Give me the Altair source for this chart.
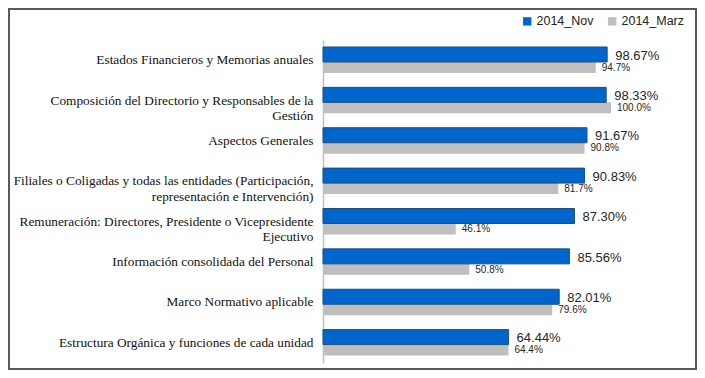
import altair as alt
import pandas as pd

categories = [
    "Estados Financieros y Memorias anuales",
    "Composición del Directorio y Responsables de la|Gestión",
    "Aspectos Generales",
    "Filiales o Coligadas y todas las entidades (Participación,|representación e Intervención)",
    "Remuneración: Directores, Presidente o Vicepresidente|Ejecutivo",
    "Información consolidada del Personal",
    "Marco Normativo aplicable",
    "Estructura Orgánica y funciones de cada unidad",
]
nov_values = [98.67, 98.33, 91.67, 90.83, 87.30, 85.56, 82.01, 64.44]
marz_values = [94.7, 100.0, 90.8, 81.7, 46.1, 50.8, 79.6, 64.4]
series = ["2014_Nov", "2014_Marz"]
colors = ["#0066CC", "#BFBFBF"]

df = pd.DataFrame({
    "cat": categories,
    "nov": nov_values,
    "marz": marz_values,
})
df["nov_label"] = [f"{v:.2f}%" for v in nov_values]
df["marz_label"] = [f"{v:.1f}%" for v in marz_values]
df["s_nov"] = series[0]
df["s_marz"] = series[1]

W, H = 360, 323
xscale = alt.Scale(domain=[0, 125], nice=False, zero=True)
yscale = alt.Scale(domain=categories, paddingInner=0, paddingOuter=0)
color_scale = alt.Scale(domain=series, range=colors)

y_enc = alt.Y(
    "cat:N", scale=yscale, sort=categories,
    axis=alt.Axis(
        title=None, ticks=False, labelPadding=10,
        labelExpr="split(datum.label, '|')",
        labelFont="Liberation Serif", labelFontSize=13.3, labelColor="#111111",
        labelLimit=330, labelLineHeight=15.5,
        domainColor="#BFBFBF", domainWidth=1.5,
    ),
)
x_enc = alt.X("nov:Q", scale=xscale, axis=None)

base = alt.Chart(df)

blue = base.mark_bar(height=15, yOffset=-5.7, stroke="#1F4E79", strokeWidth=1).encode(
    x=x_enc,
    y=y_enc,
    color=alt.Color(
        "s_nov:N", scale=color_scale, title=None,
        legend=alt.Legend(
            orient="none", direction="horizontal", legendX=198, legendY=-25,
            symbolType="square", symbolSize=70, symbolStrokeWidth=0,
            labelFont="Liberation Sans", labelFontSize=12.5, labelColor="#222222",
            columnPadding=12, labelOffset=3,
        ),
    ),
)
gray = base.mark_bar(height=11, yOffset=7.3).encode(
    x=alt.X("marz:Q", scale=xscale, axis=None),
    y=alt.Y("cat:N", scale=yscale, sort=categories),
    color=alt.Color("s_marz:N", scale=color_scale),
)
blue_txt = base.mark_text(
    align="left", baseline="middle", dx=8, yOffset=-4.5, font="Liberation Sans",
    fontSize=13, color="#262626",
).encode(
    x=alt.X("nov:Q", scale=xscale),
    y=alt.Y("cat:N", scale=yscale, sort=categories),
    text="nov_label:N",
)
gray_txt = base.mark_text(
    align="left", baseline="middle", dx=6, yOffset=7.5, font="Liberation Sans",
    fontSize=10, color="#262626",
).encode(
    x=alt.X("marz:Q", scale=xscale),
    y=alt.Y("cat:N", scale=yscale, sort=categories),
    text="marz_label:N",
)
border = alt.Chart(pd.DataFrame({"a": [0]})).mark_rect(
    fill=None, stroke="#595959", strokeWidth=2
).encode(
    x=alt.value(-314), x2=alt.value(373), y=alt.value(-31), y2=alt.value(329)
)

chart = alt.layer(gray, blue, gray_txt, blue_txt, border).properties(
    width=W, height=H,
    padding={"left": 315, "top": 32, "right": 14, "bottom": 7},
    autosize=alt.AutoSizeParams(type="none"),
    background="white",
).configure_view(stroke=None)

chart.save("out.html", embed_options={"renderer": "svg", "actions": False})
